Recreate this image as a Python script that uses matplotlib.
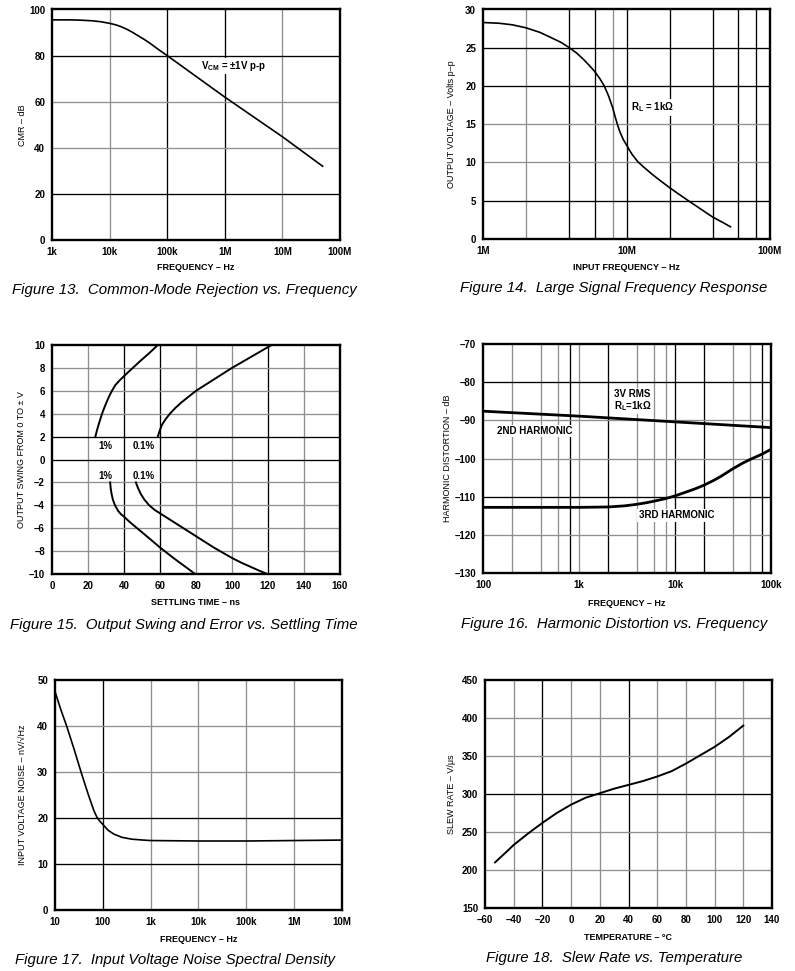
import matplotlib
matplotlib.use("Agg")
import matplotlib.pyplot as plt

plt.rcParams['font.family'] = ['Liberation Sans', 'DejaVu Sans']
plt.rcParams['mathtext.fontset'] = 'custom'
plt.rcParams['mathtext.rm'] = 'Liberation Sans:bold'
plt.rcParams['mathtext.it'] = 'Liberation Sans:bold'
plt.rcParams['mathtext.bf'] = 'Liberation Sans:bold'
plt.rcParams['mathtext.sf'] = 'Liberation Sans'
plt.rcParams['mathtext.default'] = 'rm'

W, H = 795, 971

# ---------------- data ----------------
# Fig 13 CMR vs frequency
f13_freq = [1e3, 2e3, 3e3, 5e3, 7e3, 1e4, 1.3e4, 1.6e4, 2e4, 2.5e4, 3e4, 4e4, 5e4, 7e4, 1e5, 1e6, 1e7, 5e7]
f13_cmr = [95.5, 95.5, 95.4, 95.1, 94.7, 94.0, 93.3, 92.5, 91.4, 90.1, 88.9, 87.0, 85.4, 82.7, 80.0, 62.0, 44.8, 32.0]
f13_xticks = [1e3, 1e4, 1e5, 1e6, 1e7, 1e8]
f13_xlabels = ['1k', '10k', '100k', '1M', '10M', '100M']
f13_yticks = [0, 20, 40, 60, 80, 100]

# Fig 14 large signal frequency response
f14_freq = [1e6, 1.3e6, 1.6e6, 2e6, 2.5e6, 3e6, 3.5e6, 4e6, 4.5e6, 5e6, 5.5e6, 6e6, 6.5e6, 7e6,
            7.5e6, 8e6, 8.3e6, 8.6e6, 9e6, 9.5e6, 1e7, 1.05e7, 1.1e7, 1.2e7, 1.3e7, 1.5e7,
            1.7e7, 2e7, 2.3e7, 2.7e7, 3.3e7, 4e7, 4.7e7, 5.3e7]
f14_vout = [28.3, 28.2, 28.0, 27.6, 27.0, 26.3, 25.7, 25.0, 24.3, 23.5, 22.7, 21.9, 21.0, 20.0,
            18.7, 17.2, 16.1, 15.1, 14.0, 13.0, 12.3, 11.6, 11.0, 10.1, 9.5, 8.5,
            7.7, 6.7, 5.9, 5.0, 3.9, 2.85, 2.15, 1.6]
f14_xticks = [1e6, 1e7, 1e8]
f14_xlabels = ['1M', '10M', '100M']
f14_yticks = [0, 5, 10, 15, 20, 25, 30]

# Fig 15 output swing vs settling time
f15_up1_t = [24.1, 24.9, 25.8, 26.8, 27.8, 29.0, 30.3, 31.7, 33.3, 35.2, 37.5, 40.0, 42.6, 45.4, 49.0, 52.8, 55.8, 58.8]
f15_up1_v = [2.0, 2.5, 3.0, 3.5, 4.0, 4.5, 5.0, 5.5, 6.0, 6.5, 6.9, 7.28, 7.67, 8.07, 8.6, 9.12, 9.55, 10.0]
f15_up01_t = [58.8, 59.8, 61.0, 63.0, 65.5, 68.5, 72.0, 76.0, 80.0, 85.0, 90.0, 95.0, 100.0, 105.5, 111.0, 116.5, 122.0]
f15_up01_v = [2.0, 2.5, 3.0, 3.5, 4.0, 4.5, 5.0, 5.5, 6.0, 6.5, 7.0, 7.5, 8.0, 8.5, 9.0, 9.5, 10.0]
f15_lo1_t = [32.3, 32.6, 33.1, 33.8, 35.0, 36.8, 38.2, 40.0, 43.5, 47.5, 52.0, 56.0, 60.0, 65.0, 70.0, 75.0, 79.5]
f15_lo1_v = [-2.0, -2.5, -3.0, -3.5, -4.0, -4.5, -4.76, -5.0, -5.5, -6.03, -6.62, -7.15, -7.68, -8.3, -8.9, -9.47, -10.0]
f15_lo01_t = [46.6, 47.8, 49.3, 51.3, 54.0, 57.0, 60.0, 65.0, 70.0, 75.0, 80.0, 85.0, 90.0, 95.0, 100.0, 105.0, 110.0, 115.0, 119.6]
f15_lo01_v = [-2.0, -2.5, -3.0, -3.5, -4.0, -4.4, -4.7, -5.2, -5.7, -6.2, -6.7, -7.2, -7.7, -8.15, -8.6, -9.0, -9.35, -9.7, -10.0]
f15_xticks = [0, 20, 40, 60, 80, 100, 120, 140, 160]
f15_yticks = [-10, -8, -6, -4, -2, 0, 2, 4, 6, 8, 10]
f15_ylabels = ['–10', '–8', '–6', '–4', '–2', '0', '2', '4', '6', '8', '10']

# Fig 16 harmonic distortion
f16_freq2 = [1e2, 1e3, 1e4, 1e5]
f16_h2 = [-87.6, -88.9, -90.4, -91.9]
f16_freq3 = [1e2, 3e2, 1e3, 2e3, 3e3, 4e3, 5e3, 6e3, 8e3, 1e4, 1.3e4, 1.6e4, 2e4, 2.5e4, 3e4, 4e4, 5e4, 6e4, 8e4, 1e5]
f16_h3 = [-112.8, -112.8, -112.8, -112.7, -112.4, -112.0, -111.6, -111.2, -110.5, -109.8, -108.8, -108.0,
          -107.0, -105.8, -104.7, -102.7, -101.3, -100.3, -98.9, -97.6]
f16_xticks = [1e2, 1e3, 1e4, 1e5]
f16_xlabels = ['100', '1k', '10k', '100k']
f16_yticks = [-130, -120, -110, -100, -90, -80, -70]
f16_ylabels = ['–130', '–120', '–110', '–100', '–90', '–80', '–70']

# Fig 17 input voltage noise
f17_freq = [10, 13, 17.5, 25, 35, 50, 65, 75, 85, 100, 130, 170, 250, 400, 700, 1e3, 1e4, 1e5, 1e6, 1e7]
f17_noise = [47.5, 43.8, 40.0, 35.0, 30.0, 25.0, 21.6, 20.2, 19.4, 18.6, 17.3, 16.5, 15.8, 15.4, 15.2, 15.1, 15.0, 15.0, 15.1, 15.2]
f17_xticks = [10, 1e2, 1e3, 1e4, 1e5, 1e6, 1e7]
f17_xlabels = ['10', '100', '1k', '10k', '100k', '1M', '10M']
f17_yticks = [0, 10, 20, 30, 40, 50]

# Fig 18 slew rate vs temperature
f18_temp = [-53, -45, -40, -30, -20, -10, 0, 10, 20, 30, 40, 50, 60, 70, 80, 90, 100, 110, 120]
f18_slew = [210, 224, 233, 248, 262, 275, 286, 295, 301, 307, 312, 317, 323, 330, 340, 351, 362, 375, 390]
f18_xticks = [-60, -40, -20, 0, 20, 40, 60, 80, 100, 120, 140]
f18_xlabels = ['–60', '–40', '–20', '0', '20', '40', '60', '80', '100', '120', '140']
f18_yticks = [150, 200, 250, 300, 350, 400, 450]

# ---------------- styling helpers ----------------
GRAY = '#8f8f8f'
BLK = '#000000'

fig = plt.figure(figsize=(W / 100, H / 100), dpi=100)


def make_ax(l, t, r, b):
    return fig.add_axes([l / W, 1 - b / H, (r - l) / W, (b - t) / H])


def style(ax, l, t, r, b, xlabel, ylabel, ylab_x, xlab_top, vgrid, hgrid):
    for s in ax.spines.values():
        s.set_linewidth(1.7)
        s.set_zorder(5)
    ax.tick_params(length=0, pad=5, labelsize=7)
    for lab in ax.get_xticklabels() + ax.get_yticklabels():
        lab.set_fontweight('bold')
    ax.set_xlabel(xlabel, fontsize=6.5, fontweight='bold')
    ax.set_ylabel(ylabel, fontsize=6.5)
    ax.xaxis.set_label_coords(0.5, -(xlab_top - b) / (b - t))
    ax.xaxis.label.set_va('top')
    ax.yaxis.set_label_coords((ylab_x - l) / (r - l), 0.5)
    ax.yaxis.label.set_va('center')
    for v, c in vgrid:
        ax.axvline(v, color=c, lw=0.95, zorder=1)
    for h, c in hgrid:
        ax.axhline(h, color=c, lw=0.95, zorder=1)


def caption(text, x_center, y):
    fig.text(x_center / W, 1 - y / H, text, fontsize=10.8, style='italic',
             ha='center', va='center')


bbox_w = dict(facecolor='white', edgecolor='none', pad=1.0)

# ---------------- Fig 13 ----------------
l, t, r, b = 52, 9.5, 340, 240
ax = make_ax(l, t, r, b)
ax.set_xscale('log')
ax.set_xlim(1e3, 1e8)
ax.set_ylim(0, 100)
ax.plot(f13_freq, f13_cmr, color='k', lw=1.2, zorder=3)
ax.set_xticks(f13_xticks)
ax.set_xticklabels(f13_xlabels)
ax.xaxis.set_minor_locator(matplotlib.ticker.NullLocator())
ax.set_yticks(f13_yticks)
style(ax, l, t, r, b, 'FREQUENCY – Hz', 'CMR – dB', 22, 263,
      [(1e4, GRAY), (1e5, BLK), (1e6, BLK), (1e7, GRAY)],
      [(20, BLK), (40, GRAY), (60, GRAY), (80, BLK)])
ax.text(3.9e5, 75.5, r'V$_{CM}$ = ±1V p-p', fontsize=7, fontweight='bold',
        va='center', ha='left', bbox=bbox_w, zorder=4)
caption('Figure 13.  Common-Mode Rejection vs. Frequency', 184, 290)

# ---------------- Fig 14 ----------------
l, t, r, b = 483, 9.5, 770, 239
ax = make_ax(l, t, r, b)
ax.set_xscale('log')
ax.set_xlim(1e6, 1e8)
ax.set_ylim(0, 30)
ax.plot(f14_freq, f14_vout, color='k', lw=1.2, zorder=3)
ax.set_xticks(f14_xticks)
ax.set_xticklabels(f14_xlabels)
ax.xaxis.set_minor_locator(matplotlib.ticker.NullLocator())
ax.set_yticks(f14_yticks)
style(ax, l, t, r, b, 'INPUT FREQUENCY – Hz', 'OUTPUT VOLTAGE – Volts p–p', 452, 263,
      [(2e6, GRAY), (4e6, BLK), (6e6, BLK), (8e6, GRAY), (1e7, BLK), (2e7, BLK),
       (4e7, BLK), (6e7, BLK), (8e7, BLK)],
      [(5, BLK), (10, GRAY), (15, GRAY), (20, BLK), (25, BLK)])
ax.text(1.07e7, 17.2, r'R$_{L}$ = 1kΩ', fontsize=7, fontweight='bold',
        va='center', ha='left', bbox=bbox_w, zorder=4)
caption('Figure 14.  Large Signal Frequency Response', 614, 288)

# ---------------- Fig 15 ----------------
l, t, r, b = 52, 345, 340, 574
ax = make_ax(l, t, r, b)
ax.set_xlim(0, 160)
ax.set_ylim(-10, 10)
for tt, vv in [(f15_up1_t, f15_up1_v), (f15_up01_t, f15_up01_v),
               (f15_lo1_t, f15_lo1_v), (f15_lo01_t, f15_lo01_v)]:
    ax.plot(tt, vv, color='k', lw=1.4, zorder=3)
ax.set_xticks(f15_xticks)
ax.set_yticks(f15_yticks)
ax.set_yticklabels(f15_ylabels)
style(ax, l, t, r, b, 'SETTLING TIME – ns', 'OUTPUT SWING FROM 0 TO ± V', 22, 598,
      [(20, GRAY), (40, BLK), (60, BLK), (80, GRAY), (100, GRAY), (120, BLK), (140, GRAY)],
      [(-8, GRAY), (-6, GRAY), (-4, GRAY), (-2, GRAY), (0, BLK), (2, BLK),
       (4, GRAY), (6, GRAY), (8, GRAY)])
for x, y, s in [(26, 1.2, '1%'), (45, 1.2, '0.1%'), (26, -1.4, '1%'), (45, -1.4, '0.1%')]:
    ax.text(x, y, s, fontsize=7, fontweight='bold', va='center', ha='left', zorder=4)
caption('Figure 15.  Output Swing and Error vs. Settling Time', 184, 625)

# ---------------- Fig 16 ----------------
l, t, r, b = 483, 344, 771, 573
ax = make_ax(l, t, r, b)
ax.set_xscale('log')
ax.set_xlim(1e2, 1e5)
ax.set_ylim(-130, -70)
ax.plot(f16_freq2, f16_h2, color='k', lw=2.0, zorder=3)
ax.plot(f16_freq3, f16_h3, color='k', lw=2.0, zorder=3)
ax.set_xticks(f16_xticks)
ax.set_xticklabels(f16_xlabels)
ax.xaxis.set_minor_locator(matplotlib.ticker.NullLocator())
ax.set_yticks(f16_yticks)
ax.set_yticklabels(f16_ylabels)
style(ax, l, t, r, b, 'FREQUENCY – Hz', 'HARMONIC DISTORTION – dB', 448, 599,
      [(200, GRAY), (400, GRAY), (600, GRAY), (800, BLK), (1e3, GRAY), (2e3, BLK),
       (4e3, GRAY), (6e3, GRAY), (8e3, GRAY), (1e4, BLK), (2e4, BLK), (4e4, GRAY),
       (6e4, GRAY), (8e4, BLK)],
      [(-120, GRAY), (-110, BLK), (-100, GRAY), (-90, GRAY), (-80, BLK)])
ax.text(2.3e3, -83.1, '3V RMS', fontsize=7, fontweight='bold', va='center', ha='left',
        bbox=bbox_w, zorder=4)
ax.text(2.3e3, -86.3, r'R$_{L}$=1kΩ', fontsize=7, fontweight='bold', va='center', ha='left',
        bbox=bbox_w, zorder=4)
ax.text(140, -92.8, '2ND HARMONIC', fontsize=7, fontweight='bold', va='center', ha='left',
        bbox=bbox_w, zorder=4)
ax.text(4.2e3, -114.9, '3RD HARMONIC', fontsize=7, fontweight='bold', va='center', ha='left',
        bbox=bbox_w, zorder=4)
caption('Figure 16.  Harmonic Distortion vs. Frequency', 614, 624)

# ---------------- Fig 17 ----------------
l, t, r, b = 55, 680, 342, 910
ax = make_ax(l, t, r, b)
ax.set_xscale('log')
ax.set_xlim(10, 1e7)
ax.set_ylim(0, 50)
ax.plot(f17_freq, f17_noise, color='k', lw=1.2, zorder=3)
ax.set_xticks(f17_xticks)
ax.set_xticklabels(f17_xlabels)
ax.xaxis.set_minor_locator(matplotlib.ticker.NullLocator())
ax.set_yticks(f17_yticks)
style(ax, l, t, r, b, 'FREQUENCY – Hz', 'INPUT VOLTAGE NOISE – nV/√Hz', 22, 935,
      [(1e2, BLK), (1e3, GRAY), (1e4, GRAY), (1e5, GRAY), (1e6, GRAY)],
      [(10, BLK), (20, BLK), (30, GRAY), (40, GRAY)])
caption('Figure 17.  Input Voltage Noise Spectral Density', 175, 960)

# ---------------- Fig 18 ----------------
l, t, r, b = 485, 680, 772, 908
ax = make_ax(l, t, r, b)
ax.set_xlim(-60, 140)
ax.set_ylim(150, 450)
ax.plot(f18_temp, f18_slew, color='k', lw=1.4, zorder=3)
ax.set_xticks(f18_xticks)
ax.set_xticklabels(f18_xlabels)
ax.set_yticks(f18_yticks)
style(ax, l, t, r, b, 'TEMPERATURE – °C', 'SLEW RATE – V/μs', 452, 933,
      [(-40, GRAY), (-20, BLK), (0, GRAY), (20, GRAY), (40, BLK), (60, GRAY),
       (80, GRAY), (100, GRAY), (120, GRAY)],
      [(200, GRAY), (250, GRAY), (300, BLK), (350, GRAY), (400, GRAY)])
caption('Figure 18.  Slew Rate vs. Temperature', 614, 958)

fig.savefig('out.png', dpi=100)
